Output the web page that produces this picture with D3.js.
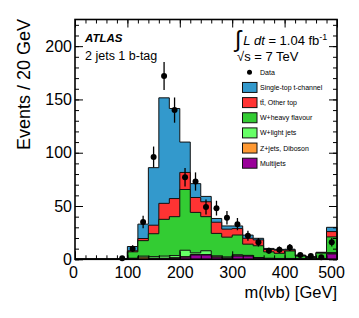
<!DOCTYPE html>
<html>
<head>
<meta charset="utf-8">
<script src="https://cdn.jsdelivr.net/npm/d3@7"></script>
<style>
body { margin: 0; background: #fff; }
svg { display: block; font-family: "Liberation Sans", Arial, Helvetica, sans-serif; }
</style>
</head>
<body>
<svg id="svg" width="359" height="318"></svg>
<script>
// bin low edges, 20 GeV bins from 0 to 500
const binEdges = d3.range(0, 520, 20);

// stacked background + signal, one value per bin (25 bins)
const multijets = [0,0,0,0,0, 0,0,0.5,0.5,1, 2,4,4,2,1, 3,3,1,0.5,0.5, 0.5,0.3,0.2,0.5,5];
const zjetsDiboson = [0,0,0,0,0, 0.5,2,0.5,0.5,0.5, 0.5,0.5,0.5,0.3,0.3, 0.3,0.2,0.2,0,0, 0,0,0,0,0.3];
const wLight = [0,0,0,0,0, 0.5,1,1.5,2,2, 6,1.5,3.5,1,1, 1,0.5,0.5,0.5,0.3, 0.3,0.2,0,0.3,1];
const wHeavy = [0,0,0,0,0.3, 6,14.5,21.5,34.5,36.5, 57,38,32,21,18.5, 18.5,10.5,11,6,4.8, 7,2.5,1.5,5,14.7];
const ttbarOther = [0,0,0,0,0, 1,2,8,15,17, 16,14,14,10.5,7.5, 6,5.5,5.5,2.2,3, 1,0.5,0.5,0.5,5];
const singleTopT = [0,0,0,0,0, 4,13.5,54,99,84.5, 28.5,13,5,3.5,3, 2.5,3,1.5,1,0.7, 0.7,0.5,0.3,0.3,4];

// observed events per bin (null = not drawn)
const dataCounts = [null,null,null,null,1, 10,35,96,172,140, 77,73,49,48,39, 33,22,16,8,9, 11,4,3,2,16];

const xTicks = [0, 100, 200, 300, 400, 500];
const yTicks = [0, 50, 100, 150, 200];

const keys = ['multijets', 'zjets', 'wlight', 'wheavy', 'ttbar', 'singletop'];
const layerColors = {
    multijets: '#990099',
    zjets: '#ff9933',
    wlight: '#66ff66',
    wheavy: '#33cc33',
    ttbar: '#ff3333',
    singletop: '#3399cc'
};
const legendLabels = ['Single-top t-channel', 't\u0074\u0304, Other top', 'W+heavy flavour',
                      'W+light jets', 'Z+jets, Diboson', 'Multijets'];
const legendKeys = ['singletop', 'ttbar', 'wheavy', 'wlight', 'zjets', 'multijets'];

const svg = d3.select('#svg');
const plot = {left: 75, right: 337, top: 19.5, bottom: 259.3};

const xScale = d3.scaleLinear().domain([0, 500]).range([plot.left, plot.right]);
const yScale = d3.scaleLinear().domain([0, 225]).range([plot.bottom, plot.top]);

const rows = binEdges.slice(0, -1).map(function(e, i) {
    return {
        lo: e,
        multijets: multijets[i],
        zjets: zjetsDiboson[i],
        wlight: wLight[i],
        wheavy: wHeavy[i],
        ttbar: ttbarOther[i],
        singletop: singleTopT[i]
    };
});
const stacked = d3.stack().keys(keys)(rows);

const area = d3.area()
    .curve(d3.curveStepAfter)
    .x(function(d) { return xScale(d.x); })
    .y0(yScale(0))
    .y1(function(d) { return yScale(d.v); });

const histGrp = svg.append('g');
// draw the cumulative histograms from the top of the stack down, ROOT style
stacked.slice().reverse().forEach(function(layer) {
    const pts = layer.map(function(d, i) { return {x: binEdges[i], v: d[1]}; });
    pts.push({x: 500, v: layer[layer.length - 1][1]});
    histGrp.append('path')
        .datum(pts)
        .attr('d', area)
        .attr('fill', layerColors[layer.key])
        .attr('stroke', '#111')
        .attr('stroke-width', 1);
});

// data points with poisson errors
const dataGrp = svg.append('g');
const dataPts = dataCounts.map(function(n, i) { return {c: binEdges[i] + 10, n: n}; })
    .filter(function(d) { return d.n !== null; });
dataGrp.selectAll('line').data(dataPts).enter().append('line')
    .attr('x1', function(d) { return xScale(d.c); })
    .attr('x2', function(d) { return xScale(d.c); })
    .attr('y1', function(d) { return yScale(d.n - Math.sqrt(d.n)); })
    .attr('y2', function(d) { return yScale(Math.min(225, d.n + Math.sqrt(d.n))); })
    .attr('stroke', '#000')
    .attr('stroke-width', 1.3);
dataGrp.selectAll('circle').data(dataPts).enter().append('circle')
    .attr('cx', function(d) { return xScale(d.c); })
    .attr('cy', function(d) { return yScale(d.n); })
    .attr('r', 3)
    .attr('fill', '#000');

// axes, ticks pointing inward
function styleAxis(g) {
    g.select('.domain').remove();
    g.selectAll('.tick line').attr('stroke', '#000').attr('stroke-width', 1);
    g.selectAll('.tick text').attr('fill', '#000').style('font-size', '16px')
        .style('font-family', '"Liberation Sans", Arial, sans-serif');
}
const minorX = d3.range(0, 501, 20);
const minorY = d3.range(0, 226, 10);

svg.append('g').attr('transform', 'translate(' + plot.left + ',0)')
    .call(d3.axisLeft(yScale).tickValues(minorY).tickSize(-4).tickFormat(''))
    .call(styleAxis);
const yAxis = svg.append('g').attr('transform', 'translate(' + plot.left + ',0)')
    .call(d3.axisLeft(yScale).tickValues(yTicks).tickSize(-8).tickPadding(3))
    .call(styleAxis);
svg.append('g').attr('transform', 'translate(' + plot.right + ',0)')
    .call(d3.axisRight(yScale).tickValues(minorY).tickSize(-4).tickFormat(''))
    .call(styleAxis);
svg.append('g').attr('transform', 'translate(' + plot.right + ',0)')
    .call(d3.axisRight(yScale).tickValues(yTicks).tickSize(-8).tickFormat(''))
    .call(styleAxis);

svg.append('g').attr('transform', 'translate(0,' + plot.bottom + ')')
    .call(d3.axisBottom(xScale).tickValues(minorX).tickSize(-4).tickFormat(''))
    .call(styleAxis);
const xAxis = svg.append('g').attr('transform', 'translate(0,' + plot.bottom + ')')
    .call(d3.axisBottom(xScale).tickValues(xTicks).tickSize(-8).tickPadding(7.5))
    .call(styleAxis);
svg.append('g').attr('transform', 'translate(0,' + plot.top + ')')
    .call(d3.axisTop(xScale).tickValues(minorX).tickSize(-4).tickFormat(''))
    .call(styleAxis);
svg.append('g').attr('transform', 'translate(0,' + plot.top + ')')
    .call(d3.axisTop(xScale).tickValues(xTicks).tickSize(-8).tickFormat(''))
    .call(styleAxis);

// ROOT nudges the end labels inside a bit
xAxis.selectAll('.tick text').attr('dx', function(d) {
    return d === 500 ? -6 : (d === 0 ? -2 : 0);
});

svg.append('rect')
    .attr('x', plot.left).attr('y', plot.top)
    .attr('width', plot.right - plot.left).attr('height', plot.bottom - plot.top)
    .attr('fill', 'none').attr('stroke', '#000').attr('stroke-width', 1.6);

// axis titles
svg.append('text')
    .attr('transform', 'translate(30,19) rotate(-90)')
    .attr('text-anchor', 'end')
    .style('font-size', '18px')
    .text('Events / 20 GeV');
svg.append('text')
    .attr('x', plot.right).attr('y', 297.5)
    .attr('text-anchor', 'end')
    .style('font-size', '16.5px')
    .text('m(l\u03bdb) [GeV]');

// labels
svg.append('text').attr('x', 85).attr('y', 41.5)
    .style('font-size', '11.5px').style('font-weight', 'bold').style('font-style', 'italic')
    .text('ATLAS');
svg.append('text').attr('x', 85).attr('y', 59.5)
    .style('font-size', '12.5px')
    .text('2 jets 1 b-tag');

const lumi = svg.append('text').attr('x', 235).attr('y', 45).style('font-size', '13px');
lumi.append('tspan').style('font-size', '23px').attr('dy', 2).text('\u222b');
lumi.append('tspan').attr('dx', 2).attr('dy', -2).style('font-style', 'italic').text('L dt');
lumi.append('tspan').text(' = 1.04 fb');
lumi.append('tspan').attr('dy', -5).style('font-size', '9px').text('-1');

svg.append('text').attr('x', 237).attr('y', 60.5)
    .style('font-size', '13px')
    .text('\u221as = 7 TeV');

// legend
const legend = svg.append('g');
const legY0 = 72.3, legStep = 15.15;
legend.append('circle').attr('cx', 249.5).attr('cy', legY0).attr('r', 2.5).attr('fill', '#000');
legend.append('text').attr('x', 260).attr('y', legY0).attr('dy', '0.35em')
    .style('font-size', '7px').text('Data');
legendKeys.forEach(function(k, i) {
    const cy = legY0 + legStep * (i + 1);
    legend.append('rect')
        .attr('x', 242.5).attr('y', cy - 5)
        .attr('width', 14.5).attr('height', 10)
        .attr('fill', layerColors[k]).attr('stroke', '#111').attr('stroke-width', 1);
    legend.append('text').attr('x', 260).attr('y', cy).attr('dy', '0.35em')
        .style('font-size', '7px').text(legendLabels[i]);
});
</script>
</body>
</html>
